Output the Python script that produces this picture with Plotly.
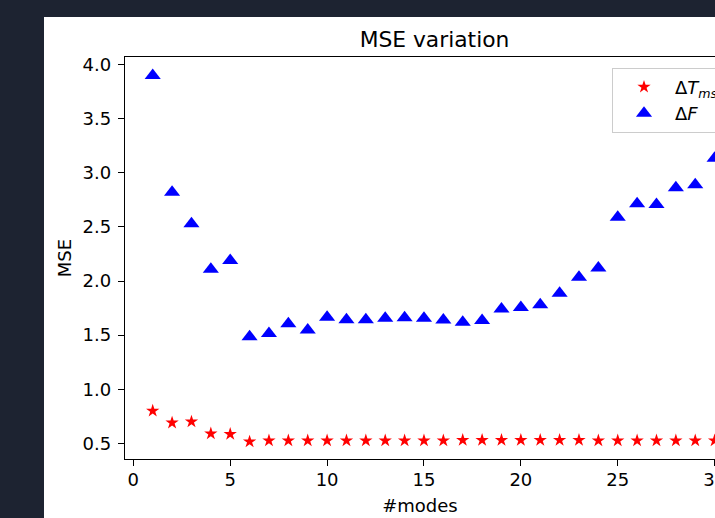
import plotly.graph_objects as go

# ---- data ----
modes = list(range(1, 31))
delta_T = [0.80, 0.69, 0.70, 0.59, 0.585, 0.515, 0.525, 0.525, 0.525, 0.525,
           0.525, 0.525, 0.525, 0.525, 0.525, 0.525, 0.53, 0.53, 0.53, 0.53,
           0.53, 0.53, 0.53, 0.525, 0.525, 0.525, 0.525, 0.525, 0.525, 0.525]
delta_F = [3.90, 2.82, 2.53, 2.11, 2.19, 1.485, 1.515, 1.605, 1.547, 1.665,
           1.643, 1.643, 1.655, 1.66, 1.657, 1.64, 1.62, 1.635, 1.742, 1.756,
           1.781, 1.887, 2.036, 2.121, 2.589, 2.714, 2.708, 2.862, 2.89, 3.135]
x_ticks = [0, 5, 10, 15, 20, 25, 30]
y_ticks = [0.5, 1.0, 1.5, 2.0, 2.5, 3.0, 3.5, 4.0]
y_tick_labels = ["0.5", "1.0", "1.5", "2.0", "2.5", "3.0", "3.5", "4.0"]

W, H = 715, 518
ML, MR, MT, MB = 125, 0, 57, 59
PW, PH = W - ML - MR, H - MT - MB

FONT = "DejaVu Sans"

fig = go.Figure()
fig.add_trace(go.Scatter(
    x=modes, y=delta_T, mode="markers", name="Δ<i>T</i><sub><i>ms</i></sub>",
    marker=dict(symbol="star", size=10, color="#ff0000", line=dict(width=0)),
))
fig.add_trace(go.Scatter(
    x=modes, y=delta_F, mode="markers", name="Δ<i>F</i>",
    marker=dict(symbol="triangle-up", size=14, color="#0000ff", line=dict(width=0)),
))

# white figure panel over the dark backdrop
fig.add_shape(type="rect", xref="paper", yref="paper",
              x0=(44 - ML) / PW, x1=1.1, y0=-0.3, y1=(H - MB - 17) / PH,
              fillcolor="white", line=dict(width=0), layer="below")

axis_common = dict(
    showline=True, linecolor="#000000", linewidth=1.3, mirror=True,
    ticks="outside", ticklen=6, tickwidth=1.3, tickcolor="#000000",
    showgrid=False, zeroline=False,
    tickfont=dict(family=FONT, size=18, color="#000000"),
    automargin=True, ticklabeloverflow="allow",
)

fig.update_layout(
    width=W, height=H,
    margin=dict(l=ML, r=MR, t=MT, b=MB, autoexpand=False),
    paper_bgcolor="#1d2331",
    plot_bgcolor="white",
    font=dict(family=FONT, size=18, color="#000000"),
    title=dict(text="MSE variation", x=434.5 / W, xref="container", xanchor="center",
               y=1 - 39 / H, yref="container", yanchor="middle",
               font=dict(family=FONT, size=21.8, color="#000000")),
    xaxis=dict(range=[-0.43, 30.02], tickvals=x_ticks,
               title=dict(text="#modes", standoff=10,
                          font=dict(family=FONT, size=18, color="#000000")),
               ticklabelstandoff=-2, **axis_common),
    yaxis=dict(range=[0.355, 4.071], tickvals=y_ticks, ticktext=y_tick_labels,
               title=dict(text="MSE", standoff=6,
                          font=dict(family=FONT, size=18, color="#000000")),
               ticklabelstandoff=3, **axis_common),
    showlegend=True,
    legend=dict(x=(612 - ML) / PW, y=(H - MB - 67.7) / PH, xanchor="left", yanchor="top",
                bgcolor="rgba(255,255,255,0.8)", bordercolor="#cccccc", borderwidth=1,
                font=dict(family=FONT, size=18, color="#000000"),
                itemwidth=52, tracegroupgap=0),
)

fig.write_html("out.html", config={"displayModeBar": False},
               post_script="document.body.style.margin='0';")
